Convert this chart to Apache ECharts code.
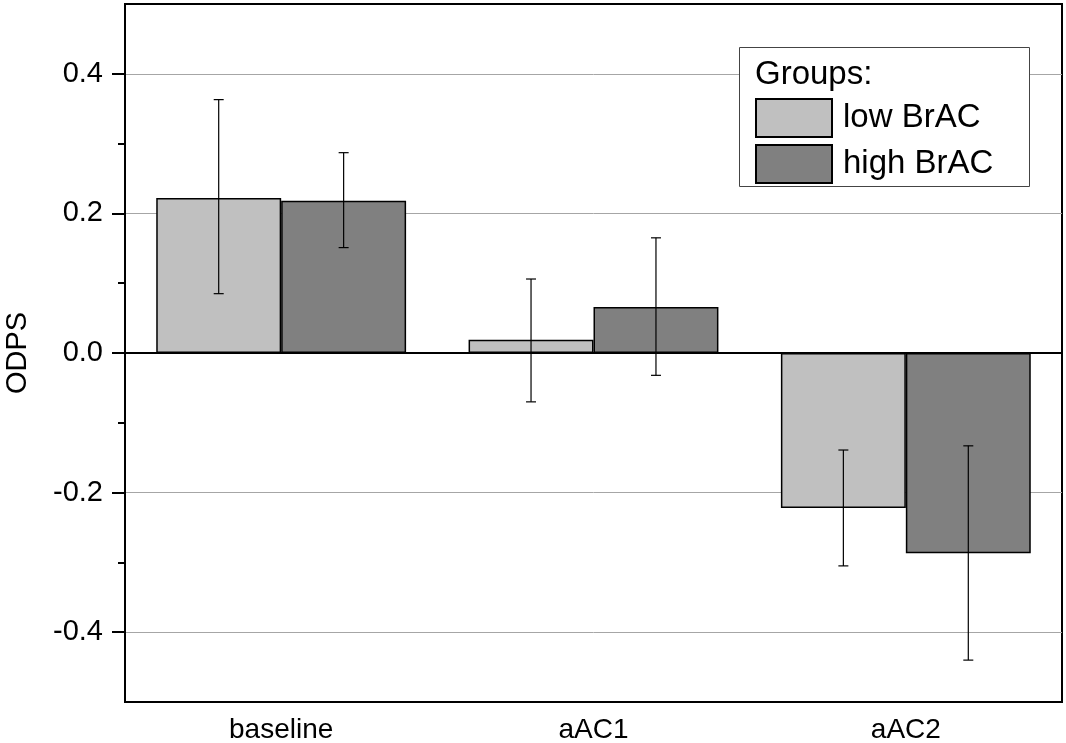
<!DOCTYPE html>
<html>
<head>
<meta charset="utf-8">
<script src="https://cdn.jsdelivr.net/npm/echarts@6/dist/echarts.min.js"></script>
<style>
html,body{margin:0;padding:0;background:#fff;}
#chart{width:1066px;height:743px;}
</style>
</head>
<body>
<div id="chart"></div>
<script>
const categories = ['baseline', 'aAC1', 'aAC2'];
const seriesNames = ['low BrAC', 'high BrAC'];
const lowValues = [0.222, 0.019, -0.222];
const highValues = [0.218, 0.066, -0.287];
const lowErrLower = [0.085, -0.070, -0.305];
const lowErrUpper = [0.363, 0.106, -0.139];
const highErrLower = [0.151, -0.032, -0.440];
const highErrUpper = [0.287, 0.165, -0.133];
const majorTicks = [-0.4, -0.2, 0, 0.2, 0.4];
const minorTicks = [-0.3, -0.1, 0.1, 0.3];
const yMin = -0.5, yMax = 0.5;

const FONT = '"Liberation Sans", Arial, sans-serif';
const chart = echarts.init(document.getElementById('chart'));

const errData = [];
categories.forEach((c, i) => {
  errData.push([i, lowErrLower[i], lowErrUpper[i], -1]);
  errData.push([i, highErrLower[i], highErrUpper[i], 1]);
});

function renderErr(params, api) {
  const ci = api.value(0);
  const lo = api.coord([ci, api.value(1)]);
  const hi = api.coord([ci, api.value(2)]);
  const band = api.size([1, 0])[0];
  const x = lo[0] + api.value(3) * band * 0.2;
  const cap = 5;
  const style = { stroke: '#000', lineWidth: 1.2 };
  return {
    type: 'group',
    children: [
      { type: 'line', shape: { x1: x, y1: lo[1], x2: x, y2: hi[1] }, style },
      { type: 'line', shape: { x1: x - cap, y1: lo[1], x2: x + cap, y2: lo[1] }, style },
      { type: 'line', shape: { x1: x - cap, y1: hi[1], x2: x + cap, y2: hi[1] }, style }
    ]
  };
}

chart.setOption({
  backgroundColor: '#fff',
  animation: false,
  textStyle: { fontFamily: FONT },
  grid: {
    left: 125, right: 4, top: 4, bottom: 41,
    containLabel: false, outerBoundsMode: 'none',
    show: true, borderColor: '#000', borderWidth: 2, backgroundColor: 'transparent'
  },
  legend: {
    data: seriesNames,
    orient: 'vertical',
    left: 755, top: 98, z: 10,
    itemWidth: 76, itemHeight: 38, itemGap: 6,
    icon: 'rect',
    padding: 0,
    textStyle: { fontFamily: FONT, fontSize: 33, color: '#000', padding: [0, 0, 0, 6] }
  },
  graphic: [
    { type: 'rect', left: 739, top: 47, z: 1,
      shape: { width: 290, height: 139 },
      style: { fill: '#fff', stroke: '#444', lineWidth: 1 } },
    { type: 'text', left: 755, top: 58, z: 2,
      style: { text: 'Groups:', font: '33px ' + FONT, fill: '#000' } }
  ],
  xAxis: {
    type: 'category',
    data: categories,
    axisLine: { show: false, onZero: false },
    axisTick: { show: false },
    splitLine: { show: false },
    axisLabel: { fontSize: 28, color: '#000', margin: 14, fontFamily: FONT }
  },
  yAxis: [
    {
      type: 'value', min: yMin, max: yMax, interval: 0.1,
      name: 'ODPS', nameLocation: 'middle', nameGap: 93,
      nameTextStyle: { fontSize: 29, color: '#000', fontFamily: FONT },
      axisLine: { show: true, lineStyle: { color: '#000', width: 2 } },
      axisTick: { show: true, length: 13, lineStyle: { color: '#000', width: 2 }, customValues: majorTicks },
      axisLabel: {
        show: true, fontSize: 29, color: '#000', margin: 22, fontFamily: FONT,
        customValues: majorTicks,
        formatter: v => v.toFixed(1)
      },
      splitLine: { show: true, lineStyle: { color: '#a6a6a6', width: 1 } }
    },
    {
      type: 'value', min: yMin, max: yMax, position: 'left', offset: 0,
      axisLine: { show: false },
      axisTick: { show: true, length: 7, lineStyle: { color: '#000', width: 2 }, customValues: minorTicks },
      axisLabel: { show: false },
      splitLine: { show: false }
    }
  ],
  series: [
    {
      name: seriesNames[0], type: 'bar', data: lowValues,
      barGap: '0%', barCategoryGap: '20%',
      itemStyle: { color: '#c0c0c0', borderColor: '#000', borderWidth: 1.5 },
      markLine: {
        silent: true, symbol: 'none', z: 10,
        label: { show: false },
        lineStyle: { color: '#000', width: 2, type: 'solid' },
        data: [{ yAxis: 0 }]
      }
    },
    {
      name: seriesNames[1], type: 'bar', data: highValues,
      barGap: '0%', barCategoryGap: '20%',
      itemStyle: { color: '#808080', borderColor: '#000', borderWidth: 1.5 }
    },
    {
      type: 'custom', name: 'err', data: errData, renderItem: renderErr, z: 5,
      encode: { x: 0, y: [1, 2] }, silent: true
    }
  ]
});
</script>
</body>
</html>
